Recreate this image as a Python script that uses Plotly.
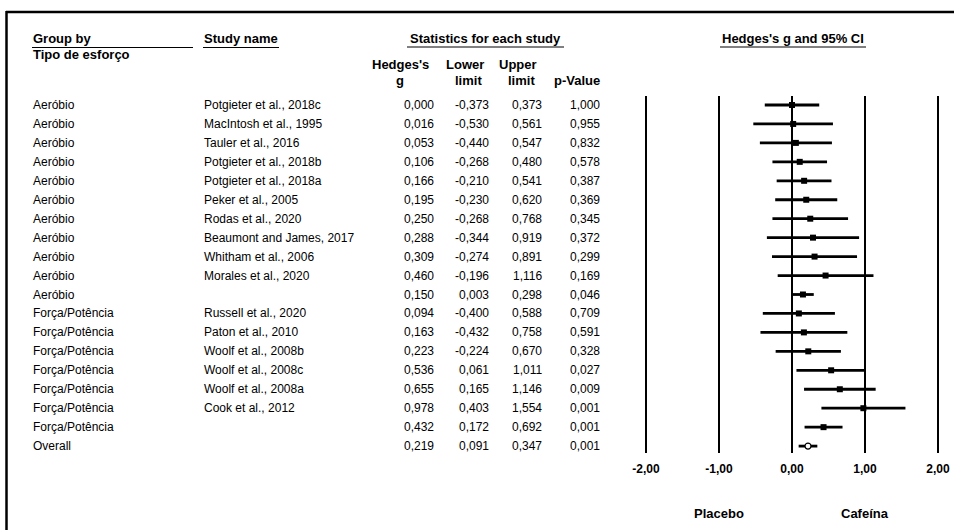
import plotly.graph_objects as go

# ---------------- data ----------------
groups = ["Aeróbio"] * 11 + ["Força/Potência"] * 7 + ["Overall"]
studies = [
    "Potgieter et al., 2018c", "MacIntosh et al., 1995", "Tauler et al., 2016",
    "Potgieter et al., 2018b", "Potgieter et al., 2018a", "Peker et al., 2005",
    "Rodas et al., 2020", "Beaumont and James, 2017", "Whitham et al., 2006",
    "Morales et al., 2020", "",
    "Russell et al., 2020", "Paton et al., 2010", "Woolf et al., 2008b",
    "Woolf et al., 2008c", "Woolf et al., 2008a", "Cook et al., 2012", "", "",
]
hedges_g = [0.000, 0.016, 0.053, 0.106, 0.166, 0.195, 0.250, 0.288, 0.309, 0.460, 0.150,
            0.094, 0.163, 0.223, 0.536, 0.655, 0.978, 0.432, 0.219]
lower = [-0.373, -0.530, -0.440, -0.268, -0.210, -0.230, -0.268, -0.344, -0.274, -0.196, 0.003,
         -0.400, -0.432, -0.224, 0.061, 0.165, 0.403, 0.172, 0.091]
upper = [0.373, 0.561, 0.547, 0.480, 0.541, 0.620, 0.768, 0.919, 0.891, 1.116, 0.298,
         0.588, 0.758, 0.670, 1.011, 1.146, 1.554, 0.692, 0.347]
p_value = [1.000, 0.955, 0.832, 0.578, 0.387, 0.369, 0.345, 0.372, 0.299, 0.169, 0.046,
           0.709, 0.591, 0.328, 0.027, 0.009, 0.001, 0.001, 0.001]
tick_vals = [-2, -1, 0, 1, 2]
tick_text = ["-2,00", "-1,00", "0,00", "1,00", "2,00"]

W, H = 954, 530
FONT = "Liberation Sans, Arial, sans-serif"
FS = 12      # body text
FSH = 13     # bold headers


def fmt(v):
    return f"{v:.3f}".replace(".", ",")


def px(x):
    return x / W


def py(y):
    return 1 - y / H


n = len(hedges_g)
rows = list(range(n))
overall = n - 1

fig = go.Figure()

# CI lines
lx, ly = [], []
for i in rows:
    lx += [lower[i], upper[i], None]
    ly += [i, i, None]
fig.add_trace(go.Scatter(x=lx, y=ly, mode="lines",
                         line=dict(color="black", width=2.8),
                         hoverinfo="skip", showlegend=False))
# point estimates (squares)
fig.add_trace(go.Scatter(x=hedges_g[:overall], y=rows[:overall], mode="markers",
                         marker=dict(symbol="square", size=6, color="black"),
                         showlegend=False))
# overall (open circle)
fig.add_trace(go.Scatter(x=[hedges_g[overall]], y=[rows[overall]], mode="markers",
                         marker=dict(symbol="circle", size=6, color="white",
                                     line=dict(color="black", width=1.2)),
                         showlegend=False))

# plot area geometry (pixels)
x0_px, unit = 792.0, 73.0
top_px, bot_px = 96.0, 453.0
row0_px, row_h = 105.0, 18.95
dom_left, dom_right = 572.0, 954.0

fig.update_xaxes(
    domain=[px(dom_left), px(dom_right)],
    range=[(dom_left - x0_px) / unit, (dom_right - x0_px) / unit],
    tickvals=tick_vals, ticktext=[f"<b>{t}</b>" for t in tick_text],
    showgrid=True, gridcolor="black", gridwidth=2, zeroline=False,
    showline=False, ticks="", ticklabelstandoff=7,
    tickfont=dict(family=FONT, size=FS, color="black"),
)
fig.update_yaxes(
    domain=[py(bot_px), py(top_px)],
    range=[(bot_px - row0_px) / row_h, (top_px - row0_px) / row_h],
    showgrid=False, zeroline=False, showticklabels=False, showline=False,
)

ann = []


def text(x, y, t, anchor="left", yref="y", bold=False, size=FS):
    ann.append(dict(x=x, y=y, xref="paper", yref=yref, text=(f"<b>{t}</b>" if bold else t),
                    showarrow=False, xanchor=anchor, yanchor="middle",
                    font=dict(family=FONT, size=size, color="black")))


# table rows
for i in rows:
    text(px(31), i, groups[i])
    if studies[i]:
        text(px(202), i, studies[i])
    text(px(436), i, fmt(hedges_g[i]), "right")
    text(px(491), i, fmt(lower[i]), "right")
    text(px(544), i, fmt(upper[i]), "right")
    text(px(602), i, fmt(p_value[i]), "right")

# headers
text(px(31), py(39), "Group by", yref="paper", bold=True, size=FSH)
text(px(31), py(55), "Tipo de esforço", yref="paper", bold=True, size=FSH)
text(px(202), py(39), "Study name", yref="paper", bold=True, size=FSH)
text(px(485), py(39), "Statistics for each study", "center", yref="paper", bold=True, size=FSH)
text(px(793), py(39), "Hedges's g and 95% CI", "center", yref="paper", bold=True, size=FSH)
text(px(400), py(65), "Hedges's", "center", yref="paper", bold=True, size=FSH)
text(px(400), py(81), "g", "center", yref="paper", bold=True, size=FSH)
text(px(465), py(65), "Lower", "center", yref="paper", bold=True, size=FSH)
text(px(468), py(81), "limit", "center", yref="paper", bold=True, size=FSH)
text(px(518), py(65), "Upper", "center", yref="paper", bold=True, size=FSH)
text(px(521), py(81), "limit", "center", yref="paper", bold=True, size=FSH)
text(px(602), py(81), "p-Value", "right", yref="paper", bold=True, size=FSH)
text(px(719), py(513), "Placebo", "center", yref="paper", bold=True, size=FSH)
text(px(865), py(513), "Cafeína", "center", yref="paper", bold=True, size=FSH)

shapes = []


def hline(x1, x2, y, w=1):
    shapes.append(dict(type="line", xref="paper", yref="paper", x0=px(x1), x1=px(x2),
                       y0=py(y), y1=py(y), line=dict(color="black", width=w)))


hline(32, 193, 47.5)
hline(203, 279, 47.5)
hline(407, 564, 47)
hline(720, 866, 47)
# frame
hline(6, 954, 12, 2.5)
shapes.append(dict(type="line", xref="paper", yref="paper", x0=px(6.5), x1=px(6.5),
                   y0=py(11), y1=0, line=dict(color="black", width=2.5)))

fig.update_layout(
    width=W, height=H, margin=dict(l=0, r=0, t=0, b=0),
    paper_bgcolor="white", plot_bgcolor="white",
    annotations=ann, shapes=shapes, showlegend=False,
    font=dict(family=FONT, size=FS, color="black"),
)

fig.write_html("out.html", config={"displayModeBar": False},
               post_script="document.body.style.margin='0';document.body.style.overflow='hidden';")
